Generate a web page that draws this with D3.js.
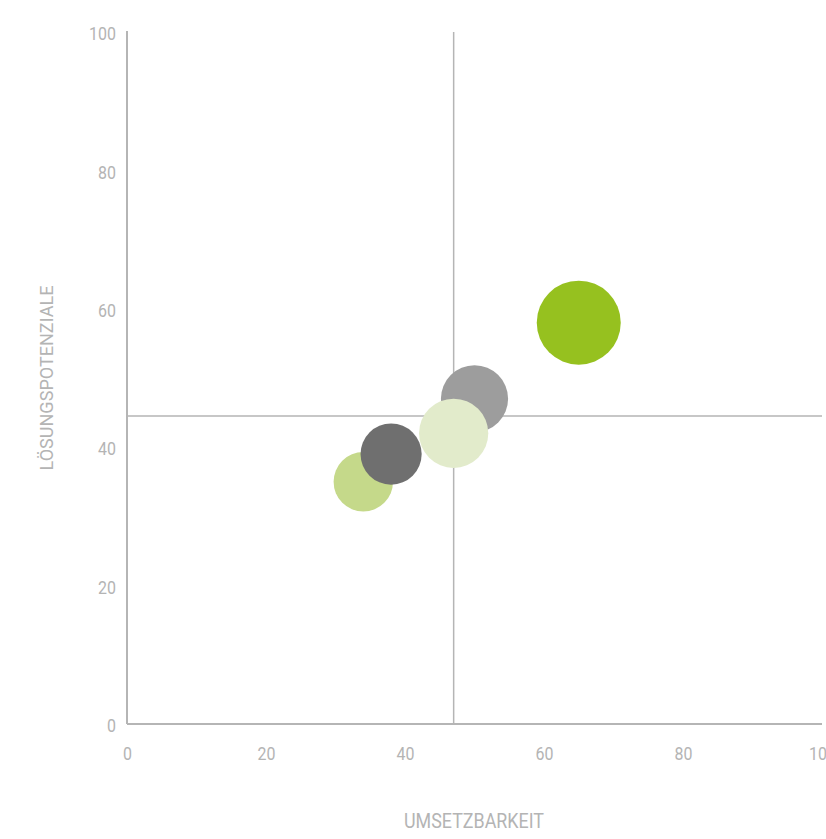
<!DOCTYPE html>
<html><head><meta charset="utf-8">
<script src="https://cdn.jsdelivr.net/npm/d3@7"></script>
<style>
body{margin:0;background:#fff;}
text{font-family:"Roboto",sans-serif;fill:#b4b4b4;font-weight:400;}
</style></head><body>
<svg id="c" width="826" height="839"></svg>
<script>
const xValues = [34, 38, 50, 47, 65];
const yValues = [35, 39, 47, 42, 58];
const sizes   = [50, 53, 64, 68, 100];
const colors  = ["#c5d98a", "#6f6f6f", "#9d9d9d", "#e2ebcb", "#96c11f"];
const xTicks = [0, 20, 40, 60, 80, 100];
const yTicks = [0, 20, 40, 60, 80, 100];
const xCross = 47;
const yCross = 44.5;
const xTitle = "UMSETZBARKEIT";
const yTitle = "LÖSUNGSPOTENZIALE";

const svg = d3.select("#c");
const x = d3.scaleLinear().domain([0,100]).range([127,822]);
const y = d3.scaleLinear().domain([0,100]).range([724,32]);
const r = d3.scaleSqrt().domain([0,100]).range([0,42]);

function condense(sel, f){
  sel.each(function(){
    const w = this.getComputedTextLength();
    d3.select(this).attr("textLength", w*f).attr("lengthAdjust","spacingAndGlyphs");
  });
}

// crosshair
svg.append("line").attr("x1",x(xCross)).attr("x2",x(xCross)).attr("y1",y(100)).attr("y2",y(0))
  .attr("stroke","#b5b5b5").attr("stroke-width",1.5);
svg.append("line").attr("x1",x(0)).attr("x2",x(100)).attr("y1",y(yCross)).attr("y2",y(yCross))
  .attr("stroke","#b5b5b5").attr("stroke-width",1.5);

// axes
const xAxis = svg.append("g").attr("transform",`translate(0,${y(0)})`)
  .call(d3.axisBottom(x).tickValues(xTicks).tickSize(0).tickPadding(29));
const yAxis = svg.append("g").attr("transform",`translate(${x(0)},0)`)
  .call(d3.axisLeft(y).tickValues(yTicks).tickSize(0).tickPadding(11));
[xAxis,yAxis].forEach(g=>{
  g.attr("font-family",null).attr("font-size",null);
  g.select(".domain").attr("stroke","#b5b5b5").attr("stroke-width",2);
  g.selectAll("text").attr("fill","#b4b4b4").style("font-size","19px");
  condense(g.selectAll("text"), 0.84);
});
yAxis.select(".domain").attr("d",`M0,${y(100)-1}V${y(0)}`);
xAxis.select(".domain").attr("d",`M0,0H${x(100)-x(0)}`).attr("transform",`translate(${x(0)},0)`);
xAxis.selectAll(".tick text").attr("dy","0.35em");
yAxis.selectAll(".tick text").attr("dy","0.4em");

// bubbles
svg.append("g").selectAll("circle").data(xValues.map((v,i)=>i)).join("circle")
  .attr("cx",i=>x(xValues[i])).attr("cy",i=>y(yValues[i])).attr("r",i=>r(sizes[i]))
  .attr("fill",i=>colors[i]);

// titles
svg.append("text").attr("x",474).attr("y",828).attr("text-anchor","middle")
  .style("font-size","19.5px").attr("textLength",140).attr("lengthAdjust","spacingAndGlyphs").text(xTitle);
svg.append("text").attr("transform","translate(53,378) rotate(-90)").attr("text-anchor","middle")
  .style("font-size","19px").attr("textLength",185).attr("lengthAdjust","spacingAndGlyphs").text(yTitle);
</script>
</body></html>
